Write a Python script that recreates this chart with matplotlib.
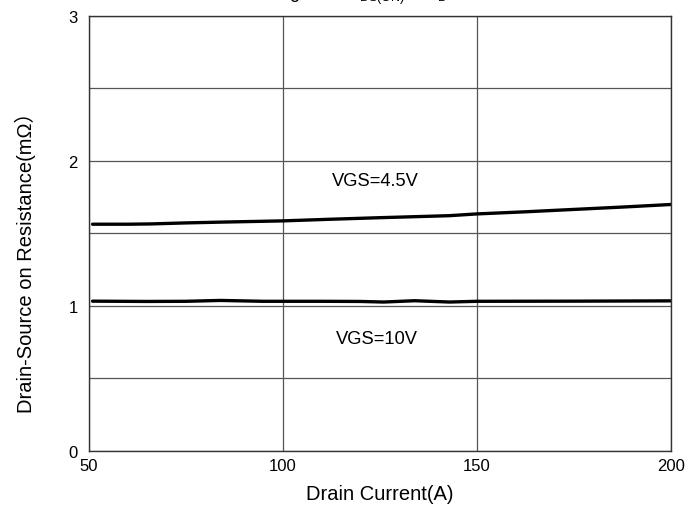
import matplotlib
matplotlib.use("Agg")
import matplotlib.pyplot as plt

plt.rcParams['font.family'] = ['Liberation Sans', 'Noto Sans CJK SC', 'DejaVu Sans']
plt.rcParams['mathtext.fontset'] = 'custom'
plt.rcParams['mathtext.rm'] = 'Liberation Sans'

# Data
current_45 = [51, 60, 66, 75, 85, 100, 112, 125, 138, 143, 150, 162, 175, 188, 200]
rds_45 = [1.563, 1.563, 1.565, 1.572, 1.578, 1.586, 1.597, 1.608, 1.618, 1.622, 1.634, 1.648, 1.665, 1.682, 1.699]
current_10 = [51, 65, 75, 84, 95, 110, 120, 126, 134, 143, 150, 175, 200]
rds_10 = [1.032, 1.030, 1.031, 1.037, 1.031, 1.031, 1.030, 1.026, 1.035, 1.026, 1.031, 1.032, 1.034]
xticks = [50, 100, 150, 200]
yticks = [0, 1, 2, 3]
label_45 = "VGS=4.5V"
label_10 = "VGS=10V"

fig = plt.figure(figsize=(7.0, 5.1), dpi=100)
ax = fig.add_axes([0.1267, 0.1143, 0.9581 - 0.1267, 0.9667 - 0.1143])

ax.plot(current_45, rds_45, color='black', lw=2.4, solid_capstyle='round')
ax.plot(current_10, rds_10, color='black', lw=2.4, solid_capstyle='round')

ax.set_xlim(50, 200)
ax.set_ylim(0, 3)
ax.set_xticks(xticks)
ax.set_yticks(yticks)
ax.set_yticks([0.5, 1.5, 2.5], minor=True)
ax.tick_params(which='both', length=0, labelsize=12, colors='black')
ax.tick_params(axis='x', pad=5.3)
ax.tick_params(axis='y', pad=7.7)
ax.grid(True, which='both', color='#555555', lw=0.9)
ax.set_axisbelow(True)
for s in ax.spines.values():
    s.set_color('#333333')
    s.set_linewidth(1.0)

ax.set_xlabel("Drain Current(A)", fontsize=14.5)
ax.xaxis.set_label_coords(0.5, -0.0766)
ax.set_ylabel("Drain-Source on Resistance(mΩ）", fontsize=14.5)
ax.yaxis.set_label_coords(-0.0905, 0.4456)

ax.text(124, 1.865, label_45, fontsize=13.2, ha='center', va='center')
ax.text(124.4, 0.771, label_10, fontsize=13.2, ha='center', va='center')

fig.text(275 / 700, 1 + 1.0 / 510,
         r"Figure 3 R$\mathregular{_{DS(ON)}}$ vs I$\mathregular{_D}$",
         fontsize=13, ha='left', va='baseline')

fig.savefig("out.png", dpi=100)
